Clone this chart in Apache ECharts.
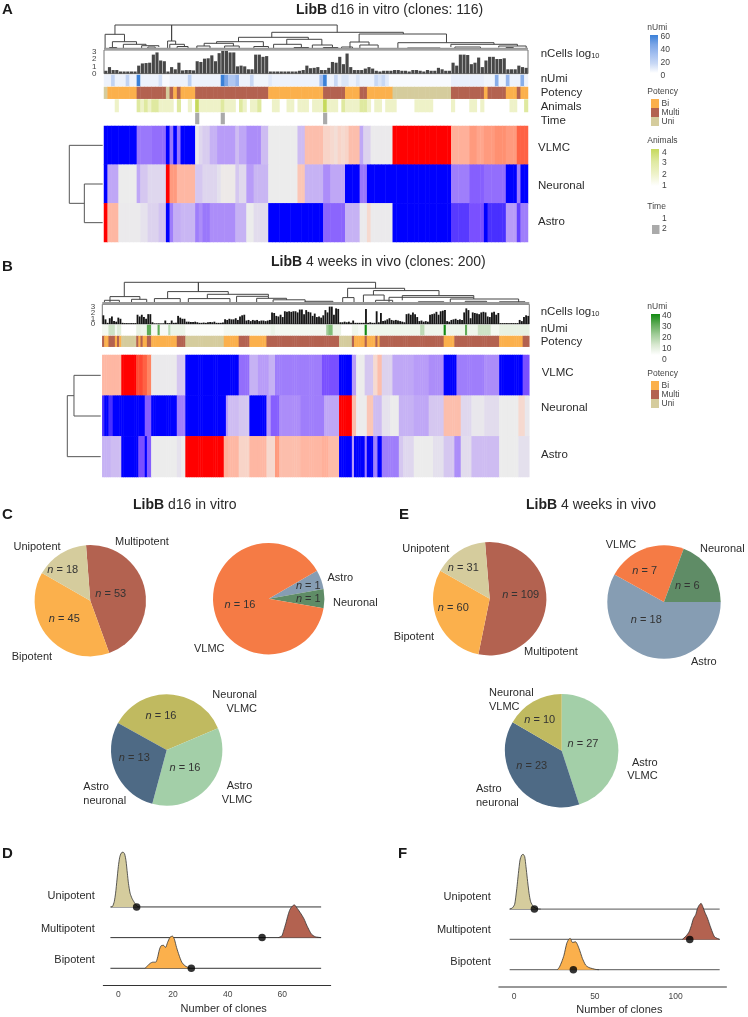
<!DOCTYPE html>
<html>
<head>
<meta charset="utf-8">
<style>html,body{margin:0;padding:0;background:#fff}#c{width:748px;height:1017px}</style>
<script src="https://cdn.jsdelivr.net/npm/echarts@6/dist/echarts.min.js"></script>
</head>
<body>
<div id="c"></div>
<script>
// ---------- data: run lengths are [value, number of columns] ----------
const heatRowsA = ['VLMC', 'Neuronal', 'Astro'];
const vlmcA = [[-1,9],[-.62,4],[-.65,4],[-1,1],[-.62,1],[-1,1],[-.62,1],[-1,4],[-.02,1],[-.2,1],[-.28,2],[-.4,2],[-.5,5],[-.35,1],[-.45,2],[-.55,4],[-.35,2],[0,8],[-.35,2],[.4,5],[.25,2],[.2,1],[.15,1],[.25,1],[.2,1],[.25,1],[.4,3],[-.45,1],[-.25,2],[-.02,6],[1,16],[.5,5],[.6,2],[.55,2],[.6,3],[.65,3],[.6,3],[.8,3]];
const neuronalA = [[-1,1],[-.45,3],[0,5],[-.45,1],[-.3,2],[-.2,5],[1,1],[.6,2],[.45,5],[-.3,2],[-.22,4],[-.12,1],[.03,4],[-.3,1],[-.18,2],[-.5,2],[-.38,4],[0,8],[.35,2],[-.4,5],[-.55,2],[-.45,4],[-1,4],[-.62,2],[-1,23],[-.6,5],[-.7,4],[-.65,6],[-1,3],[-.6,1],[-1,2]];
const astroA = [[1,1],[.45,3],[-.02,6],[-.1,2],[-.25,3],[-.32,2],[-1,1],[-.6,1],[-.42,2],[-.38,4],[-.6,1],[-.55,1],[-.62,2],[-.55,2],[-.55,5],[-.4,3],[0,2],[-.15,4],[-1,15],[-.68,6],[-.4,4],[-.02,2],[.2,1],[-.02,6],[-1,16],[-.82,5],[-.75,4],[-1,1],[-.85,5],[-.5,3],[-.8,1],[-.6,2]];
const vlmcB = [[.45,9],[1,7],[.85,3],[.8,2],[.7,2],[-.02,12],[-.3,4],[-1,25],[-.65,5],[-.4,4],[-.5,5],[-.4,3],[-.6,6],[-.6,16],[-.75,8],[-1,6],[-.5,2],[0,4],[-.3,4],[.2,2],[.4,2],[-.25,5],[-.45,3],[-.45,7],[-.5,7],[-.55,7],[-1,6],[-.6,5],[-.6,8],[-.55,7],[-1,11],[-.75,3]];
const neuronalB = [[-.85,1],[-1,2],[-.85,2],[-1,3],[-1,12],[-.7,3],[-1,12],[-.6,4],[-1,19],[-.5,1],[-.35,5],[-.3,5],[-1,8],[-.5,2],[-.7,4],[-.55,10],[-.6,11],[-.45,7],[1,6],[.4,2],[0,5],[.35,3],[-.35,4],[-.1,4],[0,4],[-.4,7],[-.45,7],[-.3,7],[.4,8],[-.2,5],[-.05,6],[-.15,7],[0,9],[.2,3],[-.05,2]];
const astroB = [[-.4,4],[-.35,5],[-1,8],[-.75,3],[-1,1],[-.7,2],[0,12],[-.1,2],[0,2],[1,18],[.5,2],[.45,5],[.25,5],[.45,8],[.2,4],[.6,2],[.4,10],[.45,10],[.5,3],[.42,5],[-1,6],[-.5,1],[-1,5],[-.6,1],[-1,3],[-.6,2],[-1,2],[-.6,8],[-.3,2],[-.2,5],[0,9],[-.12,5],[-.3,5],[-.55,3],[-.15,5],[-.35,13],[0,9],[-.12,5]];

const barsA = [.4,.9,.5,.5,.3,.3,.3,.3,.3,1.1,1.4,1.45,1.5,2.6,2.9,1.8,1.7,.3,.9,.6,
  1.5,.45,.5,.5,.45,1.7,1.6,2.05,2.1,2.5,1.7,2.8,3.1,3.1,2.9,2.9,1,1.1,1,.6,
  .6,2.6,2.6,2.3,2.4,.3,.3,.3,.3,.3,.3,.3,.3,.4,.5,1.1,.75,.8,.9,.5,
  .5,.8,1.6,1.5,2.3,1.3,2.75,.9,.5,.5,.5,.7,.9,.7,.4,.3,.4,.4,.4,.5,
  .5,.4,.4,.3,.5,.5,.4,.3,.5,.4,.4,.8,.6,.4,.4,1.5,1.1,2.6,2.6,2.55,
  1.3,1.5,2.2,.9,1.8,2.3,2.3,2,2,2.1,.6,.6,.6,1.1,.9,.8];
const barsB = [1.5,.8,.2,1,1.3,.5,.4,1.1,.9,.2,.15,.15,.15,.15,.15,.15,1.6,1.3,1.6,1.2,
  .9,1.7,1.7,.3,.1,.1,.1,.1,.1,.6,.15,.15,.6,.2,.2,1.4,1.1,.9,.9,.4,
  .4,.35,.35,.4,.3,.2,.2,.25,.2,.3,.35,.3,.4,.2,.2,.2,.25,.8,.7,.9,
  .8,.8,1,.7,1.3,1.5,1.6,.6,.7,.5,.7,.6,.7,.5,.6,.6,.5,.6,.7,2,
  1.9,1.4,1.3,1.6,1.2,2.2,2.1,2.2,2.1,2.2,2.2,2,2.5,2.5,1.7,2.4,2.1,2,1.4,1.8,
  1.2,1.3,1.1,1.5,2.4,2,3,3,1.6,2.7,2.6,.3,.3,.4,.3,.4,.2,.6,.2,.2,
  .2,.2,.2,2.6,.2,.3,.2,.2,2.2,.3,1.9,.5,.6,.8,1,.7,.6,.7,.6,.5,
  .4,.3,1.7,1.8,1.6,2,1.7,1.2,.5,.6,.4,.5,.4,1.6,1.7,1.8,2.1,1.6,2.2,2.3,
  2.4,.5,.4,.7,.8,.9,.7,.8,.7,2,2.7,2.4,1,2,1.9,1.8,1.7,2,2.1,2,
  1.3,1.2,2,2.1,1.6,1.9,.15,.15,.15,.15,.15,.15,.15,.15,.15,.7,.5,1.2,1.5,1.4];

const umiA = [[5,2],[18,1],[5,3],[18,1],[5,2],[60,1],[5,5],[12,1],[2,2],[5,5],[20,1],[5,8],[60,1],[45,1],[25,2],[35,1],[5,3],[15,1],[4,4],[8,1],[5,13],[30,1],[60,1],[5,2],[15,1],[5,1],[10,2],[5,2],[10,1],[5,4],[15,1],[10,1],[15,1],[8,1],[2,17],[6,9],[4,3],[40,1],[4,2],[35,1],[5,3],[40,1],[5,1]];
const umiB = [[3,3],[12,3],[3,1],[8,2],[0,7],[6,2],[4,3],[30,2],[2,3],[30,1],[2,4],[15,1],[5,7],[1,18],[3,22],[5,2],[3,24],[20,1],[25,2],[5,4],[0,5],[4,3],[2,3],[40,1],[4,25],[15,2],[4,9],[40,1],[4,9],[30,1],[4,5],[12,6],[3,4],[6,14]];
// potency: 0 Uni, 1 Bi, 2 Multi
const potencyA = [[0,1],[1,8],[2,8],[0,1],[2,1],[1,1],[2,1],[1,4],[2,20],[1,15],[2,6],[1,4],[2,2],[1,7],[0,16],[2,9],[1,1],[2,5],[1,3],[2,1],[1,2]];
const potencyB = [[2,1],[1,2],[2,3],[1,1],[2,1],[1,1],[0,7],[2,1],[1,1],[2,1],[1,2],[2,2],[1,12],[2,4],[0,18],[1,7],[2,5],[1,8],[2,34],[0,6],[2,1],[1,5],[2,1],[1,4],[2,1],[1,1],[2,30],[1,5],[2,21],[1,11],[2,3]];
const animalsA = [[1,3],[2,1],[1,5],[3,1],[2,1],[3,1],[2,1],[3,2],[2,4],[1,1],[3,1],[1,2],[2,1],[1,1],[4,1],[2,6],[3,1],[2,3],[1,1],[3,1],[2,1],[1,1],[2,2],[3,1],[1,3],[2,2],[1,2],[2,2],[1,1],[2,3],[1,1],[2,3],[4,1],[2,3],[1,1],[3,1],[2,3],[2,1],[3,2],[2,1],[1,1],[2,2],[1,1],[2,3],[1,5],[2,5],[1,5],[2,1],[1,4],[2,2],[1,1],[2,1],[1,7],[2,2],[1,2],[3,1]];
const timeA = [[1,25],[2,1],[1,6],[2,1],[1,27],[2,1],[1,55]];

// dendrogram merges: [left col, right col, height, left child height, right child height]
const treeA = [[3,63.8,24,14.7,16.7],[18.5,18.5,24,8,8],[.3,5.6,14.7,0,7.3],[2.3,8.9,7.3,.5,4.7],[5.3,11.5,4.7,.5,3.3],[10.3,15,3.3,.5,2],[1.5,3.5,1.5,.5,.5],[12,14,2,.5,.5],
  [17.4,19.6,8,.5,4.7],[18,22,4.7,.5,2.5],[20,23,2.5,.5,.5],[45.9,81.9,16.7,11.7,15],[36.8,55.9,11.7,7.3,9.7],[30.8,43.6,7.3,5.7,2.5],[27.4,35.4,5.7,3,3],[25.4,29,3,.5,.5],[33,37,3,1,1],[41,45,2.5,.5,.5],
  [50,59.6,9.7,4.7,4],[46.4,54,4.7,.5,1.5],[52,56,1.5,0,0],[57,62.5,4,.5,1.5],[60,64,1.5,.5,.5],[69.8,93.7,15,7,6.3],[67.3,72.5,7,.5,4],[70,75,4,.5,1],[65,68,2,.5,.5],[80.4,106.7,6.3,.5,4.7],[94.9,113.1,4.7,2,3],[96,103,2,0,.5],[108,115.5,3,1.5,1],[110,112,1.5,0,0],[83,92,1,0,0]];
const treeB = [[10.3,128,21,6.7,15],[45,45,21,11.7,11.7],[3.6,17.6,6.7,1,4],[13.7,20.8,4,1,.5],[1,8,3,0,1],[30.6,59,11.7,4.7,9],[24.4,36.5,4.7,.5,1],[49.2,77.8,9,4.7,7],[40.3,59.8,4.7,.5,1],[62.9,77.8,7,1,5],[72.3,86.3,5,1,3.5],[80,95,3.5,1,1],[95,108,2,.5,.5],
  [114.9,141.6,15,5.7,12.7],[112.6,117.9,5.7,.5,1],[127,157.7,12.7,8.3,7.7],[122.3,132,8.3,1,3],[128,136,3,.5,.5],[140.5,174,7.7,3,6],[134.3,174,6,1,4.3],[163,195,4.3,.5,1],[170,180,2,.5,.5],[148,160,1.5,.5,.5],[186,198,1.5,.5,.5]];
// side dendrograms: [row a, row b, height, height a, height b]
const sideTreeA = [[1.5,2.5,.55,0,0],[.5,2,1,0,.55]];
const sideTreeB = [[.5,1.5,.8,0,0],[1,2.5,1,.8,0]];

// pies
const pieC1 = [['Multipotent',53],['Bipotent',45],['Unipotent',18]];
const pieC2 = [['Astro',1],['Neuronal',1],['VLMC',16]];
const pieC3 = [['Neuronal VLMC',16],['Astro VLMC',16],['Astro neuronal',13]];
const pieE1 = [['Multipotent',109],['Bipotent',60],['Unipotent',31]];
const pieE2 = [['Astro',18],['VLMC',7],['Neuronal',6]];
const pieE3 = [['Astro VLMC',27],['Astro neuronal',23],['Neuronal VLMC',10]];

// ridgelines: [clones, density height]
const ridgeDUni = [[-2.7,0],[-2.1,.02],[-1.5,.17],[-1,.45],[-.5,.88],[0,1.32],[.5,1.62],[1,1.75],[1.7,1.79],[2.3,1.73],[2.8,1.51],[3.3,1.1],[3.7,.77],[4.3,.45],[5,.28],[5.9,.14],[6.8,.03],[7.4,0]];
const ridgeDMulti = [[58.5,0],[59.8,.05],[60.4,.2],[61.3,.47],[62.1,.74],[62.8,.92],[63.7,1.03],[64.4,1.07],[65,1.01],[65.9,.9],[67.1,.74],[68,.6],[68.9,.41],[69.9,.23],[70.7,.11],[72,.03],[74.1,0]];
const ridgeDBi = [[9.8,0],[11,.11],[11.6,.16],[12.6,.2],[13.7,.2],[14.3,.33],[15,.6],[15.6,.73],[16.5,.75],[17.3,.68],[18,.84],[18.9,1.01],[19.8,1.05],[20.5,.95],[21.3,.68],[22.2,.43],[23.2,.2],[24.4,.08],[26.2,0]];
const ridgeFUni = [[-2.7,0],[-1,.04],[.4,.16],[1.6,.63],[2.7,1.18],[3.7,1.62],[4.7,1.78],[5.6,1.81],[6.6,1.73],[7.4,1.4],[8.2,1.01],[9.3,.52],[10.3,.24],[12,.08],[14.4,.01],[16.5,0]];
const ridgeFMulti = [[104.1,0],[106.2,.1],[108.2,.24],[109.7,.46],[110.9,.68],[112.4,.82],[113.4,1.01],[114.4,1.12],[115.7,1.19],[116.7,1.09],[118,.9],[119.6,.71],[121.2,.46],[122.7,.24],[124.1,.08],[127.2,0]];
const ridgeFBi = [[26.8,0],[28,.08],[29.5,.26],[30.9,.48],[32.6,.87],[33.8,1],[34.8,1.03],[36.1,.9],[38.1,.92],[40.2,.7],[42.3,.37],[44.3,.15],[46.4,.07],[50.5,.01],[52.6,0]];
const dotsD = [26.7, 52.6, 6.7];   // Bipotent, Multipotent, Unipotent
const dotsF = [36.7, 108.7, 12.6];
const ridgeNames = ['Bipotent', 'Multipotent', 'Unipotent'];

// ---------- styles ----------
const FONT = '"Liberation Sans", Arial, sans-serif';
const INK = '#2b2b2b';
const COL = {Bi:'#fbb04c', Multi:'#b36250', Uni:'#d5cc9d', VLMC:'#f57b45', Astro:'#869db3', Neuronal:'#5f8c66', NV:'#c0ba60', AV:'#a3cfa8', AN:'#4e6a85'};
const HEAT = ['#0000ff','#7a50ff','#b89cf8','#dcd2ee','#ececec','#f8d4c8','#ffb09a','#ff7a55','#ff0000'];

const expand = rle => { const o = []; rle.forEach(([v, n]) => { for (let i = 0; i < n; i++) o.push(v); }); return o; };

const grid = [], xAxis = [], yAxis = [], series = [], visualMap = [], graphic = [];
const heatSeries = [];
function addGrid(rect, x, y) {
  grid.push(Object.assign({containLabel:false}, rect));
  const g = grid.length - 1;
  xAxis.push(Object.assign({gridIndex:g, show:false}, x));
  yAxis.push(Object.assign({gridIndex:g, show:false}, y));
  return g;
}
const cats = n => Array.from({length:n}, (_, i) => i);
function track(rect, n, rle, skip) {
  const g = addGrid(rect, {type:'category', data:cats(n)}, {type:'category', data:[0]});
  const vals = expand(rle), d = [];
  vals.forEach((v, i) => { if (v !== skip) d.push([i, 0, v]); });
  series.push({type:'heatmap', xAxisIndex:g, yAxisIndex:g, data:d, progressive:0, silent:true});
  return series.length - 1;
}
function heat(rect, n, rows, names) {
  const g = addGrid(rect, {type:'category', data:cats(n)}, {type:'category', data:names, inverse:true});
  const d = [];
  rows.forEach((r, y) => expand(r).forEach((v, x) => d.push([x, y, v])));
  series.push({type:'heatmap', xAxisIndex:g, yAxisIndex:g, data:d, progressive:0, silent:true});
  heatSeries.push(series.length - 1);
}
function bars(rect, vals, max, color) {
  const g = addGrid(Object.assign({show:true, borderColor:'#777', borderWidth:1, backgroundColor:'transparent'}, rect),
    {type:'category', data:cats(vals.length)},
    {type:'value', min:0, max:max});
  series.push({type:'bar', xAxisIndex:g, yAxisIndex:g, data:vals, barCategoryGap:'14%', itemStyle:{color:color}, silent:true});
}
function dendro(rect, n, maxH, nodes, band) {
  const g = addGrid(rect, {type:'value', min:0, max:n}, {type:'value', min:0, max:maxH});
  series.push({type:'line', xAxisIndex:g, yAxisIndex:g, data:band, showSymbol:false, silent:true,
    lineStyle:{color:'#999', width:2}});
  series.push({type:'custom', xAxisIndex:g, yAxisIndex:g, data:nodes, silent:true, clip:false,
    renderItem:(p, api) => ({type:'polyline', shape:{points:[
      api.coord([api.value(0), api.value(3)]), api.coord([api.value(0), api.value(2)]),
      api.coord([api.value(1), api.value(2)]), api.coord([api.value(1), api.value(4)])]},
      style:{stroke:'#444', lineWidth:1, fill:'none'}})});
}
function sideDendro(rect, nodes) {
  const g = addGrid(rect, {type:'value', min:0, max:1, inverse:true}, {type:'value', min:0, max:3, inverse:true});
  series.push({type:'custom', xAxisIndex:g, yAxisIndex:g, data:nodes, silent:true, clip:false,
    renderItem:(p, api) => ({type:'polyline', shape:{points:[
      api.coord([api.value(3), api.value(0)]), api.coord([api.value(2), api.value(0)]),
      api.coord([api.value(2), api.value(1)]), api.coord([api.value(4), api.value(1)])]},
      style:{stroke:'#555', lineWidth:1, fill:'none'}})});
}
function pie(cx, cy, r, start, rows, colors, pos) {
  series.push({type:'pie', center:[cx, cy], radius:r, startAngle:start, clockwise:true, silent:true,
    data:rows.map(([name, value], i) => ({name, value, itemStyle:{color:colors[i]}})),
    label:{show:true, position:'inside', fontSize:11, color:'#333', fontFamily:FONT,
      formatter:p => '{i|n} = ' + p.value,
      rich:{i:{fontStyle:'italic', fontSize:11, color:'#333', fontFamily:FONT}}},
    labelLine:{show:false},
    labelLayout:p => ({x:pos[p.dataIndex][0], y:pos[p.dataIndex][1], align:'center', verticalAlign:'middle'})});
}
function ridges(rect, min, max, yMin, yMax, ticks, curves, colors, span, dots, axisColor, axisWidth) {
  const g = addGrid(rect,
    {type:'value', show:true, min:min, max:max, position:'bottom', splitLine:{show:false},
     axisLine:{show:true, onZero:false, lineStyle:{color:axisColor, width:axisWidth}},
     axisTick:{show:false}, axisLabel:{customValues:ticks, fontSize:8.5, color:'#444', margin:5, fontFamily:FONT}},
    {type:'value', min:yMin, max:yMax});
  curves.forEach((c, b) => {
    series.push({type:'line', xAxisIndex:g, yAxisIndex:g, data:[[span[0], b], [span[1], b]], showSymbol:false, silent:true,
      lineStyle:{color:axisColor, width:axisWidth === 1 ? 1 : 1.3}, z:2});
    series.push({type:'line', name:ridgeNames[b], xAxisIndex:g, yAxisIndex:g, data:c.map(([x, d]) => [x, b + d]),
      smooth:.2, showSymbol:false, silent:true, lineStyle:{color:'#333', width:.8},
      areaStyle:{color:colors[b], opacity:1, origin:b}, z:3});
  });
  series.push({type:'scatter', xAxisIndex:g, yAxisIndex:g, data:dots.map((x, b) => [x, b]), symbolSize:7.5, silent:true,
    itemStyle:{color:'#000'}, z:5});
}

// ---------- panel A ----------
dendro({left:104, top:25, width:424, height:24}, 116, 24, treeA, [[0,.2],[116,.2]]);
bars({left:104, top:50, width:424, height:23.7}, barsA, 3.23, '#474747');
const sUmiA = track({left:104, top:75, width:424, height:11}, 116, umiA);
const sPotA = track({left:104, top:87, width:424, height:11.7}, 116, potencyA);
const sAniA = track({left:104, top:99.5, width:424, height:12.5}, 116, animalsA, 1);
const sTimeA = track({left:104, top:113, width:424, height:11}, 116, timeA, 1);
heat({left:104, top:126, width:424, height:116}, 116, [vlmcA, neuronalA, astroA], heatRowsA);
sideDendro({left:69.3, top:126, width:33.4, height:116}, sideTreeA);

// ---------- panel B ----------
dendro({left:102.3, top:282, width:427, height:21.3}, 200, 21.3, treeB, [[0,.2],[200,.2]]);
bars({left:102.3, top:304.3, width:427, height:19.7}, barsB, 3.4, '#151515');
const sUmiB = track({left:102.3, top:325, width:427, height:10}, 200, umiB);
const sPotB = track({left:102.3, top:336, width:427, height:10.7}, 200, potencyB);
heat({left:102.3, top:355, width:427, height:122}, 200, [vlmcB, neuronalB, astroB], heatRowsA);
sideDendro({left:67.3, top:355, width:33.4, height:122}, sideTreeB);

// ---------- pies ----------
const PIE_R = 55.7, PIE_R2 = 56.7;
pie(90.3, 600.7, PIE_R, 94.4, pieC1, [COL.Multi, COL.Bi, COL.Uni], [[110.7,594.3],[64.3,619],[62.7,570]]);
pie(268.7, 598.7, PIE_R, 30, pieC2, [COL.Astro, COL.Neuronal, COL.VLMC], [[308.3,586.3],[308.3,598.7],[240,605]]);
pie(166.7, 750, PIE_R, 151, pieC3, [COL.NV, COL.AV, COL.AN], [[161,715.7],[185,767.7],[134.3,758.3]]);
pie(489.7, 598.7, PIE_R2, 94.7, pieE1, [COL.Multi, COL.Bi, COL.Uni], [[520.7,595],[453.3,608.3],[463.3,567.7]]);
pie(664, 602, PIE_R2, 0, pieE2, [COL.Astro, COL.VLMC, COL.Neuronal], [[646.3,620],[644.7,571],[687.3,585.7]]);
pie(561.7, 750.7, PIE_R2, 90, pieE3, [COL.AV, COL.AN, COL.NV], [[583,744.3],[531.7,766.3],[539.7,720]]);

// ---------- ridgelines ----------
ridges({left:103.3, top:845, width:227.4, height:140}, -5.5, 77.7, -.545, 4.02, [0,20,40,60],
  [ridgeDBi, ridgeDMulti, ridgeDUni], [COL.Bi, COL.Multi, COL.Uni], [-2.9, 74.2], dotsD, '#333', 1);
ridges({left:499, top:845, width:227.3, height:141.7}, -9.3, 131.3, -.561, 4.115, [0,50,100],
  [ridgeFBi, ridgeFMulti, ridgeFUni], [COL.Bi, COL.Multi, COL.Uni], [-2.7, 127.2], dotsF, '#777', 1.6);

// ---------- visual maps ----------
const vm = (min, max, colors, idx) => visualMap.push({type:'continuous', show:false, min, max, inRange:{color:colors}, seriesIndex:idx, calculable:false});
vm(-1, 1, HEAT, heatSeries);
const UMI_BLUE = ['#ffffff','#c8d8f5','#a3bff0','#7ba5e6','#3a80d8'];
const UMI_GREEN = ['#ffffff','#d8e8d0','#a0cc98','#60ab58','#128a12'];
const ANIMALS = ['#ffffff','#eef2c8','#dfe9a0','#c6d95c'];
vm(0, 60, UMI_BLUE, [sUmiA]);
vm(0, 40, UMI_GREEN, [sUmiB]);
vm(1, 4, ANIMALS, [sAniA]);
vm(1, 2, ['#ffffff','#aaaaaa'], [sTimeA]);
visualMap.push({type:'piecewise', show:false, seriesIndex:[sPotA, sPotB],
  pieces:[{value:0, color:COL.Uni},{value:1, color:COL.Bi},{value:2, color:COL.Multi}]});

// ---------- text and legends ----------
function T(text, x, y, size, opt) {
  opt = opt || {};
  graphic.push({type:'text', silent:true, x, y, style:{text, fontSize:size, fontFamily:FONT, fill:opt.fill || INK,
    fontWeight:opt.bold ? 'bold' : 'normal', align:opt.align || 'left', verticalAlign:'middle', rich:opt.rich}});
}
const boldRich = s => ({b:{fontWeight:'bold', fontSize:s, fontFamily:FONT, fill:'#222', verticalAlign:'middle'}});
T('{b|LibB} d16 in vitro (clones: 116)', 296, 10, 14, {rich:boldRich(14)});
T('{b|LibB} 4 weeks in vivo (clones: 200)', 271, 262, 14, {rich:boldRich(14)});
T('{b|LibB} d16 in vitro', 133, 505, 14, {rich:boldRich(14)});
T('{b|LibB} 4 weeks in vivo', 526, 505, 14, {rich:boldRich(14)});
[['A',2,10],['B',2,267],['C',2,515],['D',2,854],['E',399,515],['F',398,854]].forEach(([s,x,y]) => T(s, x, y, 15, {bold:true, fill:'#1a1a1a'}));

// nCells axis labels (spacing is tighter than the label height in the original)
[['3',51.7],['2',59],['1',66.3],['0',73.7]].forEach(([s,y]) => T(s, 94.3, y, 8, {fill:'#444', align:'center'}));
[['3',306.7],['2',312.3],['1',318.3],['0',324]].forEach(([s,y]) => T(s, 93, y, 8, {fill:'#444', align:'center'}));

const SUB = {s:{fontSize:7.5, fontFamily:FONT, fill:INK, padding:[3,0,0,0]}};
T('nCells log{s|10}', 540.7, 54, 11.5, {rich:SUB});
T('nUmi', 540.7, 79, 11.5); T('Potency', 540.7, 93, 11.5); T('Animals', 540.7, 107, 11.5); T('Time', 540.7, 121, 11.5);
T('VLMC', 538, 148, 11.5); T('Neuronal', 538, 186, 11.5); T('Astro', 538, 222, 11.5);
T('nCells log{s|10}', 540.7, 312, 11.5, {rich:SUB});
T('nUmi', 540.7, 329, 11.5); T('Potency', 540.7, 342, 11.5);
T('VLMC', 541.7, 373, 11.5); T('Neuronal', 541, 408, 11.5); T('Astro', 541, 455, 11.5);

function gradBar(x, y, w, h, colors) {
  const stops = colors.slice().reverse().map((c, i, a) => ({offset:i / (a.length - 1), color:c}));
  graphic.push({type:'rect', silent:true, shape:{x, y, width:w, height:h},
    style:{fill:new echarts.graphic.LinearGradient(0, 0, 0, 1, stops)}});
}
function block(x, y, w, h, c) { graphic.push({type:'rect', silent:true, shape:{x, y, width:w, height:h}, style:{fill:c}}); }
const L = 8.5, LC = '#444';
const leg = (s, x, y) => T(s, x, y, L, {fill:LC});
// panel A legends
leg('nUmi', 647.3, 28); gradBar(650, 35, 8, 38, UMI_BLUE);
[['60',37],['40',50],['20',63],['0',76]].forEach(([s,y]) => leg(s, 660.5, y));
leg('Potency', 647.3, 92);
block(651, 99, 8, 9, COL.Bi); block(651, 108, 8, 9, COL.Multi); block(651, 117, 8, 9, COL.Uni);
leg('Bi', 661.5, 103.5); leg('Multi', 661.5, 112.5); leg('Uni', 661.5, 121.5);
leg('Animals', 647.3, 141); gradBar(651, 149, 8, 37, ANIMALS);
[['4',153],['3',163],['2',175],['1',186]].forEach(([s,y]) => leg(s, 662, y));
leg('Time', 647.3, 207); block(652, 225, 7.5, 9, '#aaaaaa');
leg('1', 662, 219); leg('2', 662, 229);
// panel B legends
leg('nUmi', 647.3, 306.7); gradBar(651, 314, 9, 41, UMI_GREEN);
[['40',316],['30',327],['20',338],['10',348.7],['0',359.4]].forEach(([s,y]) => leg(s, 662, y));
leg('Potency', 647.3, 374);
block(651, 381, 8, 9, COL.Bi); block(651, 390, 8, 9, COL.Multi); block(651, 399, 8, 9, COL.Uni);
leg('Bi', 661.5, 385.5); leg('Multi', 661.5, 394.5); leg('Uni', 661.5, 403.5);

// pie names
const P = 11;
T('Unipotent', 13.5, 546.7, P); T('Multipotent', 115, 541.7, P); T('Bipotent', 11.7, 656.7, P);
T('Astro', 327.5, 578, P); T('Neuronal', 333, 603, P); T('VLMC', 194, 648.7, P);
T('Neuronal', 257, 695, P, {align:'right'}); T('VLMC', 257, 708.5, P, {align:'right'});
T('Astro', 252.3, 786, P, {align:'right'}); T('VLMC', 252.3, 799.5, P, {align:'right'});
T('Astro', 83.3, 787, P); T('neuronal', 83.3, 800.7, P);
T('Unipotent', 402.3, 549, P); T('Multipotent', 524, 651.7, P); T('Bipotent', 393.7, 637.3, P);
T('VLMC', 605.7, 545, P); T('Neuronal', 700, 549, P); T('Astro', 691, 662.3, P);
T('Neuronal', 489, 693.3, P); T('VLMC', 489, 706.7, P);
T('Astro', 657.7, 762.7, P, {align:'right'}); T('VLMC', 657.7, 776, P, {align:'right'});
T('Astro', 476, 789.3, P); T('neuronal', 476, 803.3, P);

// ridge labels
T('Unipotent', 94.7, 895.7, P, {align:'right'}); T('Multipotent', 94.7, 928.7, P, {align:'right'}); T('Bipotent', 94.7, 960, P, {align:'right'});
T('Unipotent', 490.7, 897, P, {align:'right'}); T('Multipotent', 490.7, 930, P, {align:'right'}); T('Bipotent', 490.7, 961.7, P, {align:'right'});
T('Number of clones', 223.7, 1008.7, P, {align:'center'});
T('Number of clones', 619.3, 1010, P, {align:'center'});

const chart = echarts.init(document.getElementById('c'), null, {renderer:'canvas', width:748, height:1017});
chart.setOption({animation:false, backgroundColor:'#fff', textStyle:{fontFamily:FONT}, tooltip:{show:false},
  grid, xAxis, yAxis, visualMap, series, graphic:{elements:graphic}});
</script>
</body>
</html>
